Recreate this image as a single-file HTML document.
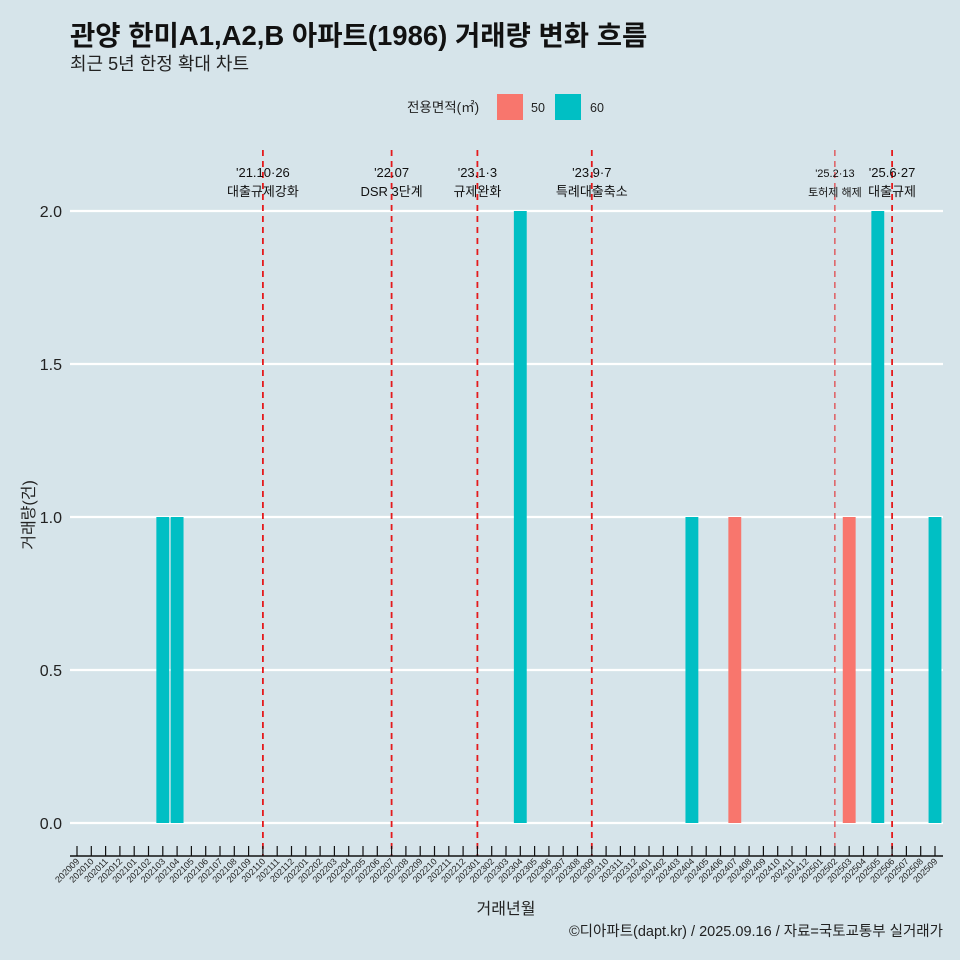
<!DOCTYPE html>
<html><head><meta charset="utf-8">
<style>
body{margin:0;background:#d6e4ea;}
svg{display:block;font-family:"Liberation Sans","Noto Sans CJK KR",sans-serif;}
</style></head>
<body>
<svg id="chart" width="960" height="960" viewBox="0 0 960 960">
<rect width="960" height="960" fill="#d6e4ea"/>
<text x="70" y="45" font-size="27.5" font-weight="bold" fill="#111">관양 한미A1,A2,B 아파트(1986) 거래량 변화 흐름</text>
<text x="70" y="70" font-size="18" fill="#222">최근 5년 한정 확대 차트</text>
<g>
<text x="407" y="112" font-size="13.5" fill="#222">전용면적(㎡)</text>
<rect x="497" y="94" width="26" height="26" fill="#f8766d"/>
<text x="531" y="112" font-size="12.5" fill="#222">50</text>
<rect x="555" y="94" width="26" height="26" fill="#00bfc4"/>
<text x="590" y="112" font-size="12.5" fill="#222">60</text>
</g>
<g id="plot"></g>
<text x="506" y="914" font-size="16" text-anchor="middle" fill="#222">거래년월</text>
<text transform="translate(34,515) rotate(-90)" font-size="16" text-anchor="middle" fill="#222">거래량(건)</text>
<text x="943" y="936" font-size="14.5" text-anchor="end" fill="#222">©디아파트(dapt.kr) / 2025.09.16 / 자료=국토교통부 실거래가</text>
</svg>
<script>
const months = [];
for (let y = 2020; y <= 2025; y++) for (let m = 1; m <= 12; m++) {
  const k = y * 100 + m;
  if (k >= 202009 && k <= 202509) months.push(String(k));
}
const seriesNames = ["50", "60"];
const barMonths = ["202103","202104","202304","202404","202407","202503","202505","202509"];
const barSeries = ["60","60","60","60","50","50","60","60"];
const barValues = [1,1,2,1,1,1,2,1];
const yTicks = [0, 0.5, 1, 1.5, 2];
const yTickLabels = ["0.0","0.5","1.0","1.5","2.0"];
const eventMonths = ["202110","202207","202301","202309","202502","202506"];
const eventDates = ["'21.10·26","'22.07","'23.1·3","'23.9·7","'25.2·13","'25.6·27"];
const eventLabels = ["대출규제강화","DSR 3단계","규제완화","특례대출축소","토허제 해제","대출규제"];

const colors = {"50":"#f8766d","60":"#00bfc4"};
const NS = "http://www.w3.org/2000/svg";
const g = document.getElementById("plot");
const x0 = 77, step = (935 - 77) / (months.length - 1);
const xs = m => x0 + months.indexOf(m) * step;
const ys = v => 823 - v * 306;
function mk(tag, attrs) { const e = document.createElementNS(NS, tag); for (const k in attrs) e.setAttribute(k, attrs[k]); g.appendChild(e); return e; }

yTicks.forEach((t, i) => {
  const l = mk("line", {x1: 70, x2: 943, y1: ys(t), y2: ys(t), stroke: "#fff", "stroke-width": 2.2});
  
  
  const tx = mk("text", {x: 62, y: ys(t) + 6, "font-size": 16, "text-anchor": "end", fill: "#222"});
  tx.textContent = yTickLabels[i];
  
  
});

barMonths.forEach((m, i) => {
  const w = step * 0.9;
  const r = mk("rect", {x: xs(m) - w / 2, y: ys(barValues[i]), width: w, height: ys(0) - ys(barValues[i]), fill: colors[barSeries[i]]});
  
  
});

eventMonths.forEach((m, i) => {
  const x = xs(m);
  const thin = m === "202502";
  const l = mk("line", {x1: x, x2: x, y1: 150, y2: 856, stroke: "#e41a1c", "stroke-width": thin ? 1 : 1.8, "stroke-dasharray": "6,5"});
  
  
  const fs = thin ? 11 : 13;
  const a = mk("text", {x: x, y: 177, "font-size": fs, "text-anchor": "middle", fill: "#111"});
  a.textContent = eventDates[i];
  
  
  const b = mk("text", {x: x, y: 196, "font-size": fs, "text-anchor": "middle", fill: "#111"});
  b.textContent = eventLabels[i];
  
  
});

const ax = mk("line", {x1: 70, x2: 943, y1: 856, y2: 856, stroke: "#111", "stroke-width": 1.5});


months.forEach(m => {
  const x = xs(m);
  const t = mk("line", {x1: x, x2: x, y1: 846, y2: 856, stroke: "#111", "stroke-width": 1.2});
  
  
  const tx = mk("text", {transform: `translate(${x + 3},${862}) rotate(-45)`, "font-size": 9, "text-anchor": "end", fill: "#222"});
  tx.textContent = m;
  
  
});
</script>
</body></html>
